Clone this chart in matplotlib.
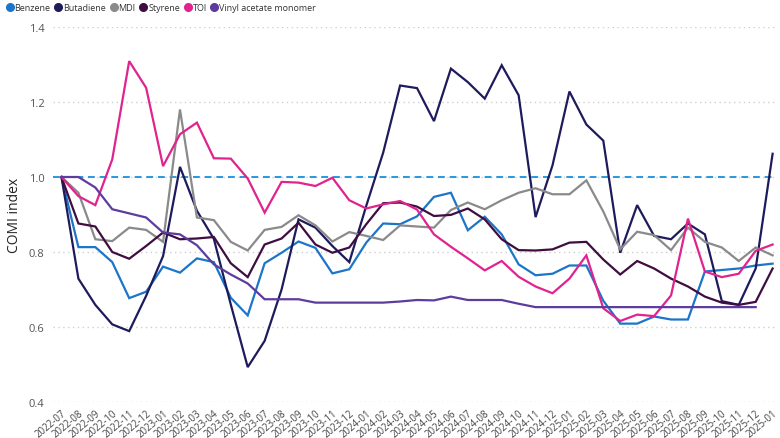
import matplotlib
matplotlib.use("Agg")
import matplotlib.pyplot as plt
from matplotlib.lines import Line2D
import numpy as np

months = ["2022-07","2022-08","2022-09","2022-10","2022-11","2022-12",
          "2023-01","2023-02","2023-03","2023-04","2023-05","2023-06",
          "2023-07","2023-08","2023-09","2023-10","2023-11","2023-12",
          "2024-01","2024-02","2024-03","2024-04","2024-05","2024-06",
          "2024-07","2024-08","2024-09","2024-10","2024-11","2024-12",
          "2025-01","2025-02","2025-03","2025-04","2025-05","2025-06",
          "2025-07","2025-08","2025-09","2025-10","2025-11","2025-12",
          "2025-01"]

benzene = [1.0,0.813,0.813,0.773,0.677,0.694,0.761,0.745,0.783,0.773,0.678,0.631,
           0.77,0.798,0.828,0.811,0.743,0.754,0.825,0.876,0.874,0.895,0.947,0.958,
           0.858,0.894,0.847,0.767,0.738,0.742,0.764,0.764,0.67,0.609,0.609,0.628,
           0.62,0.62,0.748,0.752,0.756,0.764,0.769]
butadiene = [1.0,0.729,0.659,0.607,0.589,0.683,0.789,1.027,0.91,0.835,0.66,0.493,
             0.563,0.70,0.887,0.865,0.816,0.773,0.923,1.065,1.244,1.237,1.149,1.289,
             1.253,1.209,1.298,1.218,0.893,1.031,1.228,1.14,1.097,0.798,0.925,0.843,
             0.834,0.876,0.847,0.669,0.659,0.756,1.062]
mdi = [1.0,0.958,0.834,0.829,0.865,0.859,0.827,1.18,0.892,0.885,0.827,0.804,
       0.859,0.867,0.898,0.871,0.828,0.853,0.843,0.832,0.871,0.868,0.865,0.912,
       0.932,0.914,0.938,0.958,0.97,0.954,0.954,0.991,0.908,0.807,0.854,0.845,
       0.805,0.865,0.827,0.812,0.776,0.812,0.791]
styrene = [1.0,0.876,0.868,0.80,0.782,0.816,0.852,0.834,0.836,0.84,0.77,0.733,
           0.82,0.836,0.878,0.82,0.798,0.812,0.874,0.93,0.932,0.921,0.896,0.899,
           0.916,0.887,0.834,0.805,0.804,0.807,0.825,0.827,0.78,0.74,0.776,0.756,
           0.729,0.708,0.681,0.665,0.659,0.667,0.756]
toi = [1.0,0.949,0.925,1.047,1.309,1.238,1.029,1.114,1.145,1.05,1.049,0.996,
       0.905,0.987,0.985,0.976,0.998,0.938,0.916,0.927,0.936,0.913,0.847,0.814,
       0.783,0.751,0.776,0.734,0.708,0.69,0.729,0.791,0.65,0.616,0.633,0.629,
       0.684,0.889,0.748,0.733,0.742,0.803,0.82]
vam = [1.0,1.0,0.972,0.914,0.903,0.892,0.852,0.847,0.818,0.767,0.74,0.716,
       0.674,0.674,0.674,0.665,0.665,0.665,0.665,0.665,0.668,0.672,0.671,0.681,
       0.672,0.672,0.672,0.662,0.653,0.653,0.653,0.653,0.653,0.653,0.653,0.653,
       0.653,0.653,0.653,0.653,0.653,0.653,np.nan]

series = [("Benzene", benzene, "#1B75C9"),
          ("Butadiene", butadiene, "#1E1B5C"),
          ("MDI", mdi, "#8A8A8A"),
          ("Styrene", styrene, "#3F0D40"),
          ("TOl", toi, "#E0238E"),
          ("Vinyl acetate monomer", vam, "#5C3C9E")]

plt.rcParams['font.family'] = ['Open Sans', 'DejaVu Sans']

fig = plt.figure(figsize=(7.8, 4.39), dpi=100)
ax = fig.add_axes([53/780, (439-403)/439, (776-53)/780, 375/439])

x = np.arange(len(months))
for name, vals, col in series:
    ax.plot(x, vals, color=col, lw=1.6, solid_joinstyle='miter', zorder=3)

ax.axhline(1.0, color="#2A97DE", lw=1.4, ls=(0, (3.5, 2.5)), zorder=2)

ax.set_ylim(0.4, 1.4)
ax.set_xlim(-0.5, 42.2)
ax.set_yticks([0.4, 0.6, 0.8, 1.0, 1.2, 1.4])
ax.set_yticklabels(["0.4", "0.6", "0.8", "1.0", "1.2", "1.4"])
ax.yaxis.grid(True, color="#CFCFCF", ls=(0, (1, 2.5)), lw=1.0)
ax.set_axisbelow(True)
for s in ax.spines.values():
    s.set_visible(False)
ax.tick_params(axis='y', length=0, labelsize=8, labelcolor="#555555", pad=6)
ax.set_xticks(x)
ax.set_xticklabels(months, rotation=40, ha='right', rotation_mode='anchor',
                   fontsize=7, color="#444444")
ax.tick_params(axis='x', length=0, pad=4)
ax.set_ylabel("COMI index", fontsize=10, color="#222222", labelpad=5)

handles = [Line2D([], [], marker='o', ls='none', color=c, markersize=5.5) for _, _, c in series]
labels = [n for n, _, _ in series]
fig.legend(handles, labels, loc='upper left', bbox_to_anchor=(-0.004, 1.01), ncol=6,
           frameon=False, fontsize=6.5, handletextpad=0.05, columnspacing=0.35,
           handlelength=1.0, labelcolor="#333333")

fig.savefig("out.png", dpi=100)
